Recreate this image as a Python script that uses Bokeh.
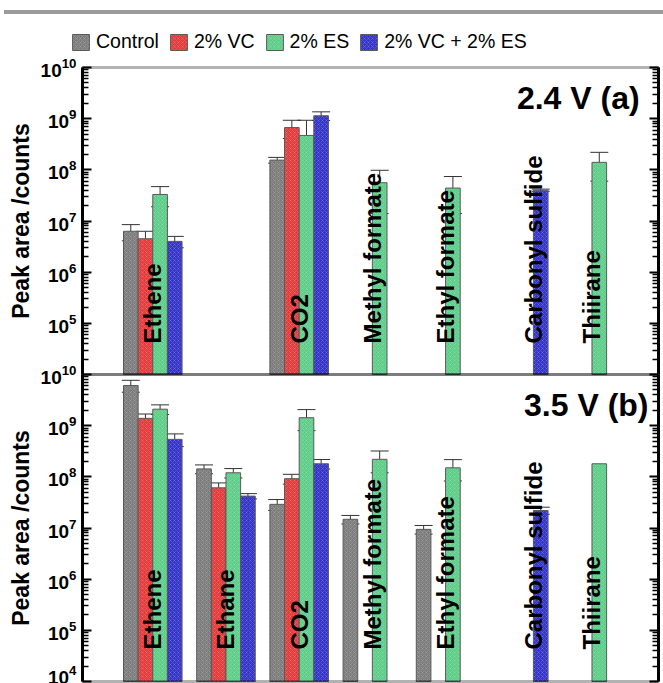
import math

from bokeh.core.properties import value
from bokeh.embed import file_html
from bokeh.layouts import column
from bokeh.models import (BoxAnnotation, ColumnDataSource, CustomJSTickFormatter, Div,
                          FixedTicker, Label, Legend, LegendItem, LogAxis, LogScale, Range1d,
                          TeeHead, Whisker)
from bokeh.plotting import figure
from bokeh.resources import INLINE

# ---------------------------------------------------------------- data
categories = ["Ethene", "Ethane", "CO2", "Methyl formate", "Ethyl formate",
              "Carbonyl sulfide", "Thiirane"]
series = ["Control", "2% VC", "2% ES", "2% VC + 2% ES"]

# 2.4 V: mean peak area per gas (None = not detected)
v24_control = [6.3e6, None, 1.55e8, None, None, None, None]
v24_vc = [4.5e6, None, 6.7e8, None, None, None, None]
v24_es = [3.3e7, None, 4.7e8, 5.6e7, 4.4e7, None, 1.4e8]
v24_vc_es = [4.0e6, None, 1.14e9, None, None, 4.0e7, None]
# 2.4 V: standard deviations
e24_control = [2.2e6, None, 2.0e7, None, None, None, None]
e24_vc = [1.8e6, None, 2.6e8, None, None, None, None]
e24_es = [1.4e7, None, 4.6e8, 4.2e7, 3.0e7, None, 8.0e7]
e24_vc_es = [1.0e6, None, 2.2e8, None, None, 2.0e6, None]

# 3.5 V: mean peak area per gas
v35_control = [6.1e9, 1.43e8, 2.9e7, 1.48e7, 9.4e6, None, None]
v35_vc = [1.39e9, 6.1e7, 9.2e7, None, None, None, None]
v35_es = [2.1e9, 1.2e8, 1.43e9, 2.2e8, 1.5e8, None, 1.8e8]
v35_vc_es = [5.4e8, 4.2e7, 1.8e8, None, None, 2.2e7, None]
# 3.5 V: standard deviations
e35_control = [1.6e9, 2.8e7, 7.0e6, 2.8e6, 1.8e6, None, None]
e35_vc = [3.0e8, 1.5e7, 2.0e7, None, None, None, None]
e35_es = [4.5e8, 2.5e7, 6.3e8, 1.0e8, 6.7e7, None, None]
e35_vc_es = [1.5e8, 5.0e6, 3.8e7, None, None, 3.5e6, None]

labels_24 = ["Ethene", "CO2", "Methyl formate", "Ethyl formate", "Carbonyl sulfide", "Thiirane"]
labels_35 = categories

# ---------------------------------------------------------------- geometry / style
FONT = "Liberation Sans"
COLORS = ["#7c7c7c", "#e23b3b", "#5dcd88", "#3434c8"]
OFFSETS = [-0.3, -0.1, 0.1, 0.3]
BAR_W = 0.2
LABEL_SHIFT = {"Carbonyl sulfide": 0.2}

W, H = 663, 665               # canvas size
BOX_L, BOX_R = 82, 658        # panel box edges, px from canvas left
TOP_Y, MID_Y = 49, 356        # px from canvas top: 2.4 V panel top, panel boundary
PX_PER_CAT = 73.2
X_AT_BOX_L = 0.04
LO, HI = 4, 10                # each panel spans 10^LO .. 10^HI
DECADE = (MID_Y - TOP_Y) / (HI - LO)


def x_at(px):
    return X_AT_BOX_L + (px - BOX_L) / PX_PER_CAT


def log_range(top_px):
    # log range whose 10^HI sits top_px below the canvas top
    return Range1d(10.0 ** (HI - (H - top_px) / DECADE), 10.0 ** (HI + top_px / DECADE))


# The frame fills the canvas; the two panels are boxes inside it, each with its
# own log range, and their axes are pinned to the box edges.
X_BOX = (x_at(BOX_L), x_at(BOX_R))
p = figure(width=W, height=H, y_axis_type="log", x_range=Range1d(x_at(0), x_at(W)),
           y_range=log_range(TOP_Y), x_axis_location=None, y_axis_location=None,
           toolbar_location=None, output_backend="svg",
           min_border_left=0, min_border_right=0, min_border_top=0, min_border_bottom=0)
p.extra_y_ranges = {"low": log_range(MID_Y)}
p.extra_y_scales = {"low": LogScale()}
p.grid.visible = False
p.outline_line_color = None

minor = [m * 10.0 ** k for k in range(LO, HI) for m in range(2, 10)]


def tick_style(ax):
    ax.axis_line_width = 3
    ax.major_tick_in = 9
    ax.major_tick_out = 0
    ax.minor_tick_in = 6
    ax.minor_tick_out = 0
    ax.major_tick_line_width = 2
    ax.minor_tick_line_width = 1.5


def add_axes(range_name, first_major):
    kw = {"y_range_name": range_name} if range_name else {}
    ticks = [10.0 ** k for k in range(first_major, HI + 1)]
    left = LogAxis(fixed_location=X_BOX[0], bounds=(10.0 ** LO, 10.0 ** HI),
                   ticker=FixedTicker(ticks=ticks, minor_ticks=minor),
                   axis_label="Peak area /counts", **kw)
    tick_style(left)
    left.major_label_text_font = FONT
    left.major_label_text_font_size = "19px"
    left.major_label_text_font_style = "bold"
    left.major_label_text_color = "black"
    left.major_label_standoff = 6
    left.axis_label_text_font = FONT
    left.axis_label_text_font_size = "23px"
    left.axis_label_text_font_style = "bold"
    left.axis_label_text_color = "black"
    left.axis_label_standoff = 4
    p.add_layout(left, "left")

    right = LogAxis(fixed_location=X_BOX[1], bounds=(10.0 ** LO, 10.0 ** HI),
                    ticker=FixedTicker(ticks=ticks, minor_ticks=minor),
                    formatter=CustomJSTickFormatter(code="return ''"), **kw)
    tick_style(right)
    p.add_layout(right, "right")

    p.add_layout(BoxAnnotation(left=X_BOX[0], right=X_BOX[1], bottom=10.0 ** LO,
                               top=10.0 ** HI, fill_color=None, line_color="black",
                               line_width=3, **kw))


# the 10^4 tick of the upper panel is the lower panel's 10^10 tick
add_axes(None, LO + 1)
add_axes("low", LO)


def draw_panel(values, errors, labels, title, range_name, label_dy):
    kw = {"y_range_name": range_name} if range_name else {}
    renderers = []
    for k, (vals, errs) in enumerate(zip(values, errors)):
        xs, tops, lo, hi, ex = [], [], [], [], []
        for i, v in enumerate(vals):
            if v is None:
                continue
            x = i + 1 + OFFSETS[k]
            xs.append(x)
            tops.append(v)
            if errs[i] is not None:
                ex.append(x)
                lo.append(v - errs[i])
                hi.append(v + errs[i])
        src = ColumnDataSource(dict(x=xs, top=tops))
        r = p.vbar(x="x", top="top", bottom=10.0 ** LO, width=BAR_W, source=src,
                   fill_color=COLORS[k], line_color="#5a5a5a", line_width=1,
                   hatch_pattern="diagonal_cross", hatch_color="white",
                   hatch_alpha=0.25, hatch_scale=4, hatch_weight=0.6, **kw)
        renderers.append(r)
        if ex:
            esrc = ColumnDataSource(dict(x=ex, lo=lo, hi=hi))
            p.add_layout(Whisker(source=esrc, base="x", lower="lo", upper="hi",
                                 line_color="#333333", line_width=1,
                                 upper_head=TeeHead(size=18, line_color="#333333", line_width=1),
                                 lower_head=TeeHead(size=18, line_color="#333333", line_width=1),
                                 **kw))

    lx = [categories.index(n) + 1 + LABEL_SHIFT.get(n, 0.0) for n in labels]
    lsrc = ColumnDataSource(dict(x=lx, y=[10.0 ** LO] * len(labels), text=labels))
    p.text(x="x", y="y", text="text", source=lsrc, angle=math.pi / 2,
           text_align="left", text_baseline="middle", y_offset=label_dy,
           text_font=value(FONT), text_font_style="bold", text_font_size="24px",
           text_color="black", **kw)

    p.add_layout(Label(x=x_at(648), y=10.0 ** 9.40, text=title, text_align="right",
                       text_baseline="alphabetic", text_font=FONT, text_color="black",
                       text_font_size="32px", text_font_style="bold", **kw))
    return renderers


top_renderers = draw_panel([v24_control, v24_vc, v24_es, v24_vc_es],
                           [e24_control, e24_vc, e24_es, e24_vc_es],
                           labels_24, "2.4 V  (a)", None, -31)
draw_panel([v35_control, v35_vc, v35_es, v35_vc_es],
           [e35_control, e35_vc, e35_es, e35_vc_es],
           labels_35, "3.5 V (b)", "low", -32)

# legend row above the upper panel, starting a little left of the box
legend = Legend(items=[LegendItem(label=s, renderers=[r]) for s, r in zip(series, top_renderers)],
                orientation="horizontal", location=(BOX_L - 12, H - 35), margin=0, padding=0,
                glyph_width=21, glyph_height=20, label_height=20, label_standoff=5,
                spacing=9, label_text_font=FONT, label_text_font_size="19.5px",
                label_text_color="black", border_line_alpha=0, background_fill_alpha=0)
p.add_layout(legend)

rule = Div(text="", width=659, height=4, margin=(10, 0, 4, 4),
           styles={"background-color": "#9b9b9b"})

page = column(rule, p, spacing=0)

open("out.html", "w").write(file_html(page, INLINE))
